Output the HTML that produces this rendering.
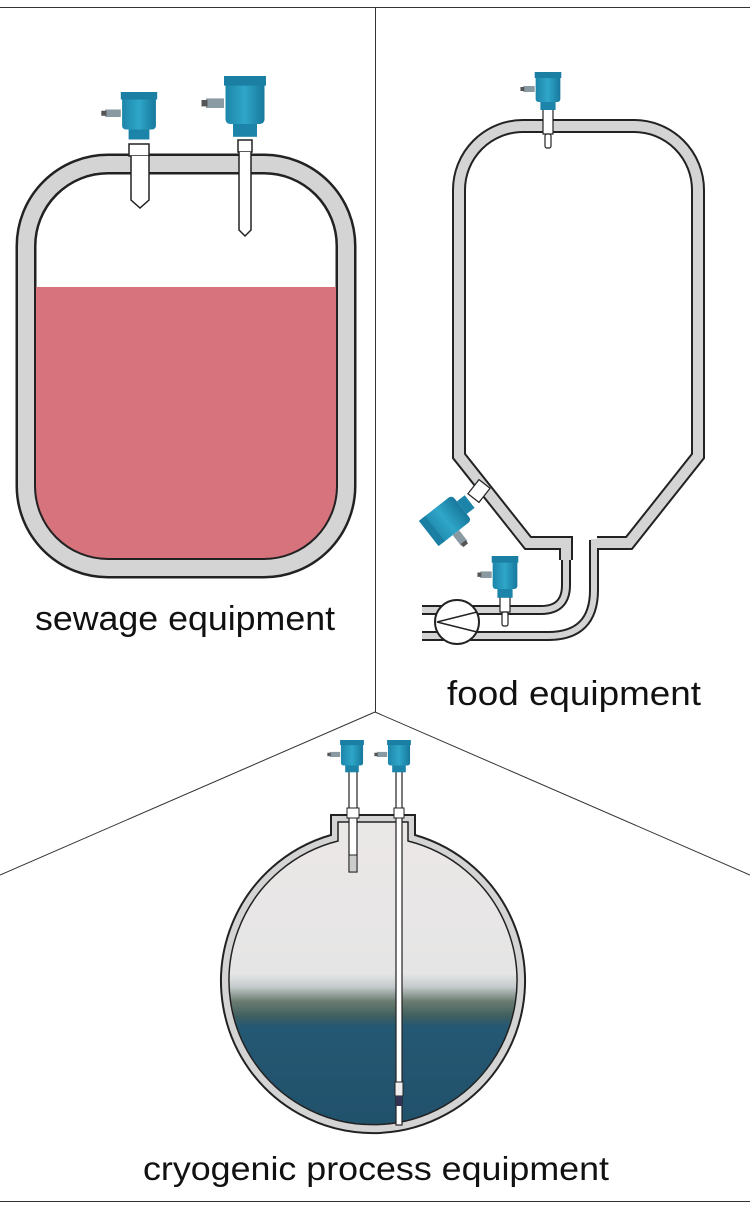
<!DOCTYPE html>
<html><head><meta charset="utf-8"><style>
html,body{margin:0;padding:0;background:#fff;}
svg{display:block;}
text{font-family:"Liberation Sans",sans-serif;fill:#111;}
</style></head><body>
<svg width="750" height="1217" viewBox="0 0 750 1217" xmlns="http://www.w3.org/2000/svg">
<defs>
<linearGradient id="blue" x1="0" x2="1" y1="0" y2="0">
<stop offset="0" stop-color="#1d86aa"/><stop offset="0.5" stop-color="#2fa6c8"/><stop offset="1" stop-color="#17789c"/>
</linearGradient>
<linearGradient id="cryo" x1="0" x2="0" y1="815" y2="1145" gradientUnits="userSpaceOnUse">
<stop offset="0" stop-color="#ebe8e7"/>
<stop offset="0.48" stop-color="#e6e5e5"/>
<stop offset="0.52" stop-color="#c5cbcd"/>
<stop offset="0.565" stop-color="#6a7c70"/>
<stop offset="0.61" stop-color="#3f5f60"/>
<stop offset="0.64" stop-color="#255873"/>
<stop offset="1" stop-color="#20506a"/>
</linearGradient>
<g id="head">
<rect x="-13" y="0" width="26" height="30" rx="3" fill="url(#blue)"/>
<rect x="-14" y="0" width="28" height="6" fill="#1a7fa3"/>
<rect x="-8" y="30" width="16" height="8" fill="#1b84a8"/>
<rect x="-26" y="14" width="12" height="6" fill="#8a9aa2"/>
<rect x="-29" y="15" width="4" height="4" fill="#555"/>
</g>
<clipPath id="sewclip"><rect x="36" y="174" width="300" height="384" rx="72"/></clipPath>
<clipPath id="cryoclip"><path d="M338 841 V822 H408 V841 A144 144 0 1 1 338 841 Z"/></clipPath>
</defs>

<!-- frame lines -->
<line x1="0" y1="7.5" x2="750" y2="7.5" stroke="#333" stroke-width="1"/>
<line x1="0" y1="1201.5" x2="750" y2="1201.5" stroke="#333" stroke-width="1"/>
<line x1="375.5" y1="7" x2="375.5" y2="712" stroke="#333" stroke-width="1"/>
<line x1="375" y1="712" x2="0" y2="875" stroke="#333" stroke-width="1"/>
<line x1="375" y1="712" x2="750" y2="875" stroke="#333" stroke-width="1"/>

<!-- sewage tank -->
<rect x="26" y="164" width="320" height="404" rx="82" fill="none" stroke="#222" stroke-width="21"/>
<rect x="26" y="164" width="320" height="404" rx="82" fill="none" stroke="#d4d4d4" stroke-width="16"/>
<rect x="0" y="287" width="375" height="300" fill="#d6737c" clip-path="url(#sewclip)"/>
<!-- sensor 1 -->
<rect x="129" y="144" width="20" height="12" fill="#fff" stroke="#222" stroke-width="1.5"/>
<path d="M131 156 V200 L140 208 L149 200 V156" fill="#fff" stroke="#222" stroke-width="1.5"/>
<use href="#head" transform="translate(139,92) scale(1.3,1.25)"/>
<!-- sensor 2 -->
<rect x="238" y="140" width="14" height="12" fill="#fff" stroke="#222" stroke-width="1.5"/>
<path d="M239 152 V230 L245 236 L251 230 V152" fill="#fff" stroke="#222" stroke-width="1.5"/>
<use href="#head" transform="translate(245,76) scale(1.5,1.6)"/>
<text x="185" y="630" font-size="34" text-anchor="middle" textLength="300" lengthAdjust="spacingAndGlyphs">sewage equipment</text>

<!-- food tank -->
<g fill="none" stroke-linejoin="miter">
<path d="M566 560 V543 H528 L459 456 V190 A64 64 0 0 1 523 126 H634 A64 64 0 0 1 698 190 V456 L629 543 H597" stroke="#222" stroke-width="14"/>
<path d="M566 540 V585 Q566 610 541 610 H422" stroke="#222" stroke-width="10"/>
<path d="M594 540 V590 Q594 636 548 636 H422" stroke="#222" stroke-width="10"/>
<path d="M566 560 V543 H528 L459 456 V190 A64 64 0 0 1 523 126 H634 A64 64 0 0 1 698 190 V456 L629 543 H597" stroke="#d4d4d4" stroke-width="10"/>
<path d="M566 539 V585 Q566 610 541 610 H422" stroke="#d4d4d4" stroke-width="6"/>
<path d="M594 539 V590 Q594 636 548 636 H422" stroke="#d4d4d4" stroke-width="6"/>
</g>
<circle cx="457" cy="622" r="22" fill="#fff" stroke="#222" stroke-width="2"/>
<path d="M477 612 L437 622 L477 632" fill="none" stroke="#222" stroke-width="1.5"/>
<!-- food top sensor -->
<rect x="543" y="108" width="10" height="26" fill="#fff" stroke="#222" stroke-width="1.2"/>
<rect x="545" y="134" width="6" height="14" rx="2" fill="#fff" stroke="#222" stroke-width="1.2"/>
<use href="#head" transform="translate(548,72) scale(0.95,1)"/>
<!-- food bottom sensor -->
<rect x="500" y="592" width="10" height="20" fill="#fff" stroke="#222" stroke-width="1.2"/>
<rect x="502" y="612" width="6" height="14" rx="2" fill="#fff" stroke="#222" stroke-width="1.2"/>
<use href="#head" transform="translate(505,556) scale(0.95,1.1)"/>
<!-- angled sensor -->
<rect x="472" y="482" width="14" height="18" fill="#fff" stroke="#222" stroke-width="1.2" transform="rotate(38 479 491)"/>
<g transform="translate(446,520) rotate(-38)">
<rect x="-20" y="-16" width="40" height="32" rx="4" fill="url(#blue)"/>
<rect x="-22" y="-16" width="8" height="32" fill="#1a7fa3"/>
<rect x="20" y="-8" width="10" height="16" fill="#1b84a8"/>
<rect x="-4" y="16" width="8" height="14" fill="#8a9aa2"/>
<rect x="-3" y="28" width="6" height="4" fill="#555"/>
</g>
<text x="574" y="705" font-size="34" text-anchor="middle" textLength="254" lengthAdjust="spacingAndGlyphs">food equipment</text>

<!-- cryo tank -->
<path d="M331 835 V815 H415 V835 A152 152 0 1 1 331 835 Z" fill="#d4d4d4" stroke="#222" stroke-width="2"/>
<rect x="220" y="815" width="310" height="330" fill="url(#cryo)" clip-path="url(#cryoclip)"/>
<path d="M338 841 V822 H408 V841 A144 144 0 1 1 338 841 Z" fill="none" stroke="#222" stroke-width="1.5"/>
<!-- left cryo sensor -->
<rect x="349" y="770" width="8" height="102" fill="#fff" stroke="#222" stroke-width="1.2"/>
<rect x="347" y="808" width="12" height="10" fill="#fff" stroke="#222" stroke-width="1"/>
<rect x="349" y="855" width="8" height="17" fill="#ccc" stroke="#222" stroke-width="1"/>
<use href="#head" transform="translate(352,740) scale(0.85,0.85)"/>
<!-- right cryo sensor -->
<rect x="396" y="770" width="6" height="355" fill="#fff" stroke="#222" stroke-width="1.2"/>
<rect x="394" y="808" width="10" height="10" fill="#fff" stroke="#222" stroke-width="1"/>
<rect x="395" y="1082" width="8" height="14" fill="#eee" stroke="#222" stroke-width="1"/>
<rect x="396" y="1096" width="6" height="10" fill="#335"/>
<use href="#head" transform="translate(399,740) scale(0.85,0.85)"/>
<text x="376" y="1180" font-size="33" text-anchor="middle" textLength="466" lengthAdjust="spacingAndGlyphs">cryogenic process equipment</text>
</svg>
</body></html>
